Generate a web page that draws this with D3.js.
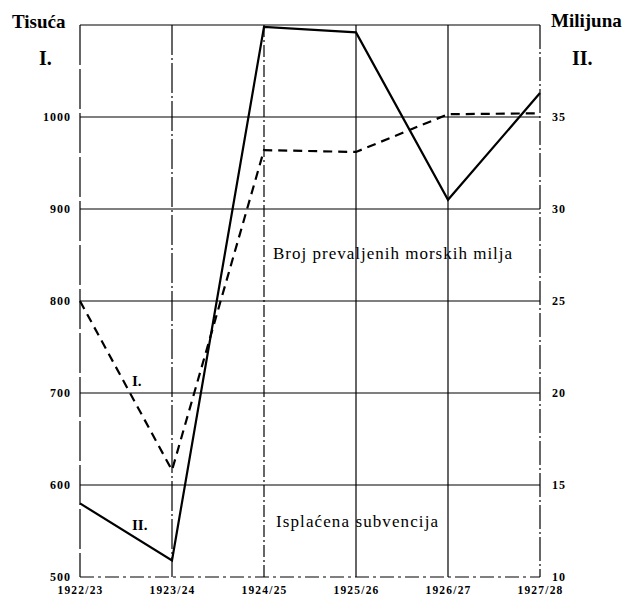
<!doctype html>
<html>
<head>
<meta charset="utf-8">
<style>
  body { margin: 0; background: #fff; }
  svg text { font-family: "Liberation Serif", "DejaVu Serif", serif; fill: #000; }
  .tick text { font-size: 12px; font-weight: bold; letter-spacing: 1px; }
</style>
<script src="https://d3js.org/d3.v7.min.js"></script>
</head>
<body>
<svg width="632" height="598"></svg>
<script>
// seasons on the x axis
var years = ["1922/23", "1923/24", "1924/25", "1925/26", "1926/27", "1927/28"];
// I. number of nautical miles covered (thousands, left axis)
var milesI = [800, 616, 964, 962, 1003, 1004];
// II. subsidy paid out (millions, right axis)
var subsidyII = [14.0, 10.9, 39.9, 39.6, 30.5, 36.3];
var leftTicks = [500, 600, 700, 800, 900, 1000];
var rightTicks = [10, 15, 20, 25, 30, 35];

var svg = d3.select("svg"),
    plotL = 80, plotR = 540, plotT = 25, plotB = 577;

var x = d3.scalePoint().domain(years).range([plotL, plotR]);
var yL = d3.scaleLinear().domain([500, 1100]).range([plotB, plotT]);
var yR = d3.scaleLinear().domain([10, 40]).range([plotB, plotT]);

// horizontal grid
svg.append("g").selectAll("line")
   .data([600, 700, 800, 900, 1000, 1100])
   .enter().append("line")
   .attr("x1", plotL).attr("x2", plotR)
   .attr("y1", function(d) { return yL(d); })
   .attr("y2", function(d) { return yL(d); })
   .attr("stroke", "#000").attr("stroke-width", 1.2);

// bottom edge is broken in the print
svg.append("line")
   .attr("x1", plotL).attr("x2", plotR)
   .attr("y1", yL(500)).attr("y2", yL(500))
   .attr("stroke", "#000").attr("stroke-width", 1.2)
   .attr("stroke-dasharray", "14,4,3,4");

// vertical grid, some lines dashed as in the scan
var vdash = ["40,4", "30,3,2,3", "12,3,2,3", null, null, "24,3,2,3"];
svg.append("g").selectAll("line")
   .data(years)
   .enter().append("line")
   .attr("x1", function(d) { return x(d); })
   .attr("x2", function(d) { return x(d); })
   .attr("y1", plotT).attr("y2", plotB)
   .attr("stroke", "#000").attr("stroke-width", 1.2)
   .attr("stroke-dasharray", function(d, i) { return vdash[i]; });

// axes (labels only)
var gl = svg.append("g")
   .attr("transform", "translate(" + (plotL - 9) + ",0)")
   .call(d3.axisLeft(yL).tickValues(leftTicks).tickSize(0).tickPadding(0).tickFormat(d3.format("d")));
gl.select(".domain").remove();

var gr = svg.append("g")
   .attr("transform", "translate(" + (plotR + 12) + ",0)")
   .call(d3.axisRight(yR).tickValues(rightTicks).tickSize(0).tickPadding(0));
gr.select(".domain").remove();

var gb = svg.append("g")
   .attr("transform", "translate(0," + (plotB + 9) + ")")
   .call(d3.axisBottom(x).tickSize(0).tickPadding(0));
gb.select(".domain").remove();
gb.selectAll(".tick text").style("font-size", "11.5px").style("letter-spacing", "1.2px");

// series
var lineI = d3.line()
   .x(function(d, i) { return x(years[i]); })
   .y(function(d) { return yL(d); });
var lineII = d3.line()
   .x(function(d, i) { return x(years[i]); })
   .y(function(d) { return yR(d); });

svg.append("path")
   .datum(milesI)
   .attr("d", lineI)
   .attr("fill", "none").attr("stroke", "#000")
   .attr("stroke-width", 2.2).attr("stroke-dasharray", "9,6");

svg.append("path")
   .datum(subsidyII)
   .attr("d", lineII)
   .attr("fill", "none").attr("stroke", "#000")
   .attr("stroke-width", 2.2);

// titles and annotations
svg.append("text").attr("x", 12).attr("y", 28)
   .style("font-size", "19px").style("font-weight", "bold").text("Tisuća");
svg.append("text").attr("x", 39).attr("y", 65)
   .style("font-size", "20px").style("font-weight", "bold").text("I.");
svg.append("text").attr("x", 551).attr("y", 27)
   .style("font-size", "19px").style("font-weight", "bold").text("Milijuna");
svg.append("text").attr("x", 572).attr("y", 65)
   .style("font-size", "20px").style("font-weight", "bold").text("II.");

svg.append("text").attr("x", 132).attr("y", 386)
   .style("font-size", "15px").style("font-weight", "bold").text("I.");
svg.append("text").attr("x", 132).attr("y", 530)
   .style("font-size", "15px").style("font-weight", "bold").text("II.");

svg.append("text").attr("x", 273).attr("y", 259)
   .style("font-size", "17px").style("letter-spacing", "1px")
   .text("Broj prevaljenih morskih milja");
svg.append("text").attr("x", 276).attr("y", 527)
   .style("font-size", "17px").style("letter-spacing", "1.1px")
   .text("Isplaćena subvencija");
</script>
</body>
</html>
